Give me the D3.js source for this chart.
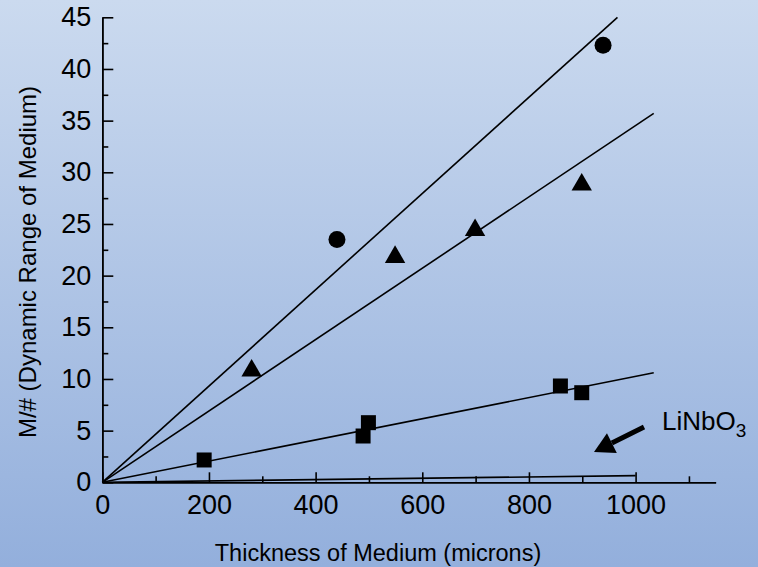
<!DOCTYPE html>
<html>
<head>
<meta charset="utf-8">
<script src="https://cdn.jsdelivr.net/npm/d3@7"></script>
<style>
  body { margin: 0; }
  text { font-family: "Liberation Sans", Arial, sans-serif; fill: #000; }
</style>
</head>
<body>
<svg id="chart" width="758" height="567"></svg>
<script>
var circleX = [440, 939];
var circleY = [23.5, 42.3];

var triangleX = [280, 549, 699, 899];
var triangleY = [10.8, 21.8, 24.4, 28.8];

var squareX = [191, 489, 499, 859, 899];
var squareY = [2.16, 4.48, 5.77, 9.32, 8.67];

// fitted lines through the origin: [x0, y0, x1, y1]
var fitCircle = [0, 0, 966, 45];
var fitTriangle = [0, 0, 1034, 35.7];
var fitSquare = [0, 0, 1034, 10.6];
var fitLiNbO3 = [0, 0, 1000, 0.65];

var xMajor = [0, 200, 400, 600, 800, 1000];
var xMinor = [100, 300, 500, 700, 900, 1100];
var yMajor = [0, 5, 10, 15, 20, 25, 30, 35, 40, 45];
var yMinor = [2.5, 7.5, 12.5, 17.5, 22.5, 27.5, 32.5, 37.5, 42.5];

var xTitle = "Thickness of Medium (microns)";
var yTitle = "M/# (Dynamic Range of Medium)";

var width = 758, height = 567;
var svg = d3.select("#chart");

var grad = svg.append("defs").append("linearGradient")
    .attr("id", "bg").attr("x1", 0).attr("y1", 0).attr("x2", 0).attr("y2", 1);
grad.append("stop").attr("offset", "0%").attr("stop-color", "#cbdaef");
grad.append("stop").attr("offset", "100%").attr("stop-color", "#93afdc");
svg.append("rect").attr("width", width).attr("height", height).attr("fill", "url(#bg)");

var x = d3.scaleLinear().domain([0, 1150]).range([102.3, 715.6]);
var y = d3.scaleLinear().domain([0, 45]).range([482.3, 17.3]);

// x axis
var gxMinor = svg.append("g").attr("transform", "translate(0," + y(0) + ")")
    .call(d3.axisBottom(x).tickValues(xMinor).tickSizeInner(-6).tickSizeOuter(0).tickFormat(""));
var gx = svg.append("g").attr("transform", "translate(0," + y(0) + ")")
    .call(d3.axisBottom(x).tickValues(xMajor).tickSizeInner(-10).tickSizeOuter(0)
        .tickPadding(13).tickFormat(d3.format("d")));
gx.selectAll("text").style("font-size", "27px");

// y axis
var gyMinor = svg.append("g").attr("transform", "translate(" + x(0) + ",0)")
    .call(d3.axisLeft(y).tickValues(yMinor).tickSizeInner(-6).tickSizeOuter(0).tickFormat(""));
var gy = svg.append("g").attr("transform", "translate(" + x(0) + ",0)")
    .call(d3.axisLeft(y).tickValues(yMajor).tickSizeInner(-11).tickSizeOuter(0)
        .tickPadding(11).tickFormat(d3.format("d")));
gy.selectAll("text").style("font-size", "27px");

svg.selectAll(".domain, .tick line").attr("stroke", "#000").attr("stroke-width", 1.6);
svg.selectAll(".tick text").attr("fill", "#000").style("font-family", "'Liberation Sans', Arial, sans-serif");

// fit lines
[fitCircle, fitTriangle, fitSquare, fitLiNbO3].forEach(function(f) {
    svg.append("line")
        .attr("x1", x(f[0])).attr("y1", y(f[1]))
        .attr("x2", x(f[2])).attr("y2", y(f[3]))
        .attr("stroke", "#000").attr("stroke-width", 1.6);
});

// markers
function drawMarks(xs, ys, type, size) {
    svg.append("g").selectAll("path")
        .data(xs)
        .enter()
        .append("path")
        .attr("d", d3.symbol().type(type).size(size))
        .attr("transform", function(d, i) { return "translate(" + x(d) + "," + y(ys[i]) + ")"; })
        .attr("fill", "#000");
}
drawMarks(circleX, circleY, d3.symbolCircle, 227);
drawMarks(triangleX, triangleY, d3.symbolTriangle, 180);
drawMarks(squareX, squareY, d3.symbolSquare, 225);

// LiNbO3 label and arrow
var label = svg.append("text")
    .attr("x", 662).attr("y", 430)
    .style("font-size", "26px");
label.append("tspan").text("LiNbO");
label.append("tspan").attr("dy", 7).style("font-size", "19px").text("3");

var ax1 = 644, ay1 = 427, ax2 = 594, ay2 = 452;
var ang = Math.atan2(ay2 - ay1, ax2 - ax1);
var headLen = 20, headW = 11;
var bx = ax2 - headLen * Math.cos(ang), by = ay2 - headLen * Math.sin(ang);
svg.append("line")
    .attr("x1", ax1).attr("y1", ay1).attr("x2", bx).attr("y2", by)
    .attr("stroke", "#000").attr("stroke-width", 5);
svg.append("path")
    .attr("d", "M" + ax2 + "," + ay2 +
        "L" + (bx + headW * Math.sin(ang)) + "," + (by - headW * Math.cos(ang)) +
        "L" + (bx - headW * Math.sin(ang)) + "," + (by + headW * Math.cos(ang)) + "Z")
    .attr("fill", "#000");

// axis titles
svg.append("text")
    .attr("x", 378).attr("y", 561)
    .attr("text-anchor", "middle")
    .style("font-size", "23.5px")
    .text(xTitle);

svg.append("text")
    .attr("transform", "translate(36,262) rotate(-90)")
    .attr("text-anchor", "middle")
    .style("font-size", "24px")
    .text(yTitle);
</script>
</body>
</html>
